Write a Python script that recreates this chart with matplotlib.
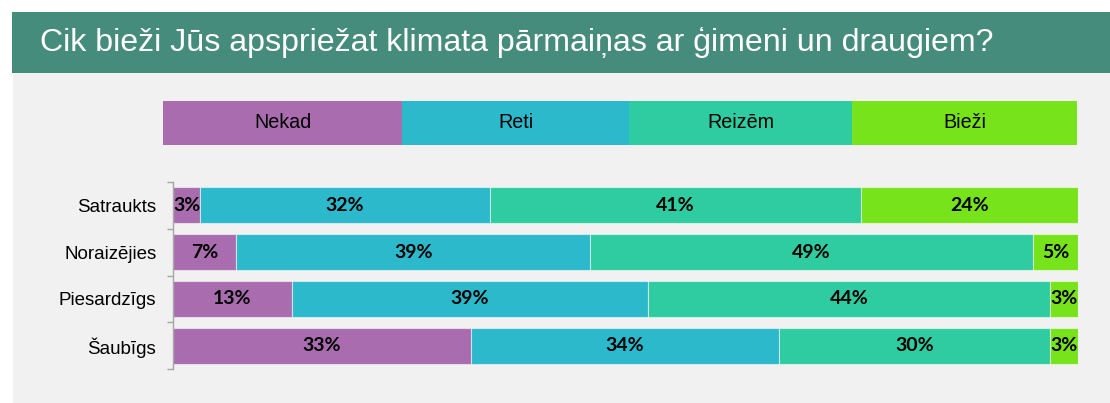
import matplotlib
matplotlib.use("Agg")
import matplotlib.pyplot as plt
from matplotlib.patches import Rectangle
import numpy as np

# ---- data ----
title = "Cik bieži Jūs apspriežat klimata pārmaiņas ar ģimeni un draugiem?"
categories = ["Satraukts", "Noraizējies", "Piesardzīgs", "Šaubīgs"]
series_names = ["Nekad", "Reti", "Reizēm", "Bieži"]
nekad = [3.0, 7.0, 13.1, 32.9]
reti = [32.0, 39.1, 39.4, 34.1]
reizem = [41.0, 48.9, 44.4, 29.9]
biezi = [24.0, 5.0, 3.1, 3.1]
values = [nekad, reti, reizem, biezi]

# ---- style ----
colors = ["#A96DAF", "#2DB9CC", "#2ECCA0", "#77E31A"]
title_bg = "#468C7C"
panel_bg = "#F1F1F1"
W, H = 1110, 403

fig = plt.figure(figsize=(W / 100, H / 100), dpi=100)
fig.patch.set_facecolor("white")

def fx(px):
    return px / W

def fy(py):
    return 1 - py / H

# grey panel and title band
fig.patches.append(Rectangle((fx(13), 0), 1 - fx(13), fy(73), transform=fig.transFigure,
                             facecolor=panel_bg, edgecolor="none", zorder=-5))
fig.patches.append(Rectangle((fx(12), fy(73)), 1 - fx(12), fy(12) - fy(73), transform=fig.transFigure,
                             facecolor=title_bg, edgecolor="none", zorder=-5))
fig.text(fx(40), fy(43), title, color="white", fontsize=23.1, family="Liberation Sans",
         va="center", ha="left")

# legend row
leg_bounds = [163, 402, 629, 852, 1077]
lax = fig.add_axes([fx(163), fy(145), fx(1077) - fx(163), fy(101) - fy(145)])
lax.set_zorder(2)
lax.set_xlim(leg_bounds[0], leg_bounds[-1])
lax.set_ylim(0, 1)
lax.axis("off")
for i, name in enumerate(series_names):
    x0, x1 = leg_bounds[i], leg_bounds[i + 1]
    lax.add_patch(Rectangle((x0, 0), x1 - x0, 1, facecolor=colors[i], edgecolor="none"))
    lax.text((x0 + x1) / 2, 0.5, name, ha="center", va="center", fontsize=14.2,
             family="Liberation Sans", color="black")

# bar chart
ax = fig.add_axes([fx(173), fy(369), fx(1078) - fx(173), fy(182) - fy(369)])
ax.set_zorder(2)
ax.set_facecolor("none")
y = np.arange(len(categories))
left = np.zeros(len(categories))
for i, name in enumerate(series_names):
    v = np.array(values[i])
    ax.barh(y, v, left=left, height=0.77, color=colors[i], edgecolor=(1, 1, 1, 0.55),
            linewidth=0.8)
    for yi, (l, vv) in enumerate(zip(left, v)):
        ax.text(l + vv / 2, yi, f"{round(vv):d}%", ha="center", va="center",
                fontsize=14, fontweight="bold", family="Lato", color="black")
    left += v

ax.set_xlim(0, 100)
ax.set_ylim(len(categories) - 0.5, -0.5)
ax.set_yticks(y)
ax.set_yticklabels(categories, fontsize=13.5, family="Liberation Sans")
ax.tick_params(axis="y", which="major", length=0, pad=12)
ax.set_yticks(np.arange(len(categories) + 1) - 0.5, minor=True)
ax.tick_params(axis="y", which="minor", length=4, width=1, color="#A6A6A6", direction="out")
ax.set_xticks([])
for s in ["top", "right", "bottom"]:
    ax.spines[s].set_visible(False)
ax.spines["left"].set_color("#A6A6A6")
ax.spines["left"].set_linewidth(1)

fig.savefig("out.png", dpi=100, facecolor="white")
